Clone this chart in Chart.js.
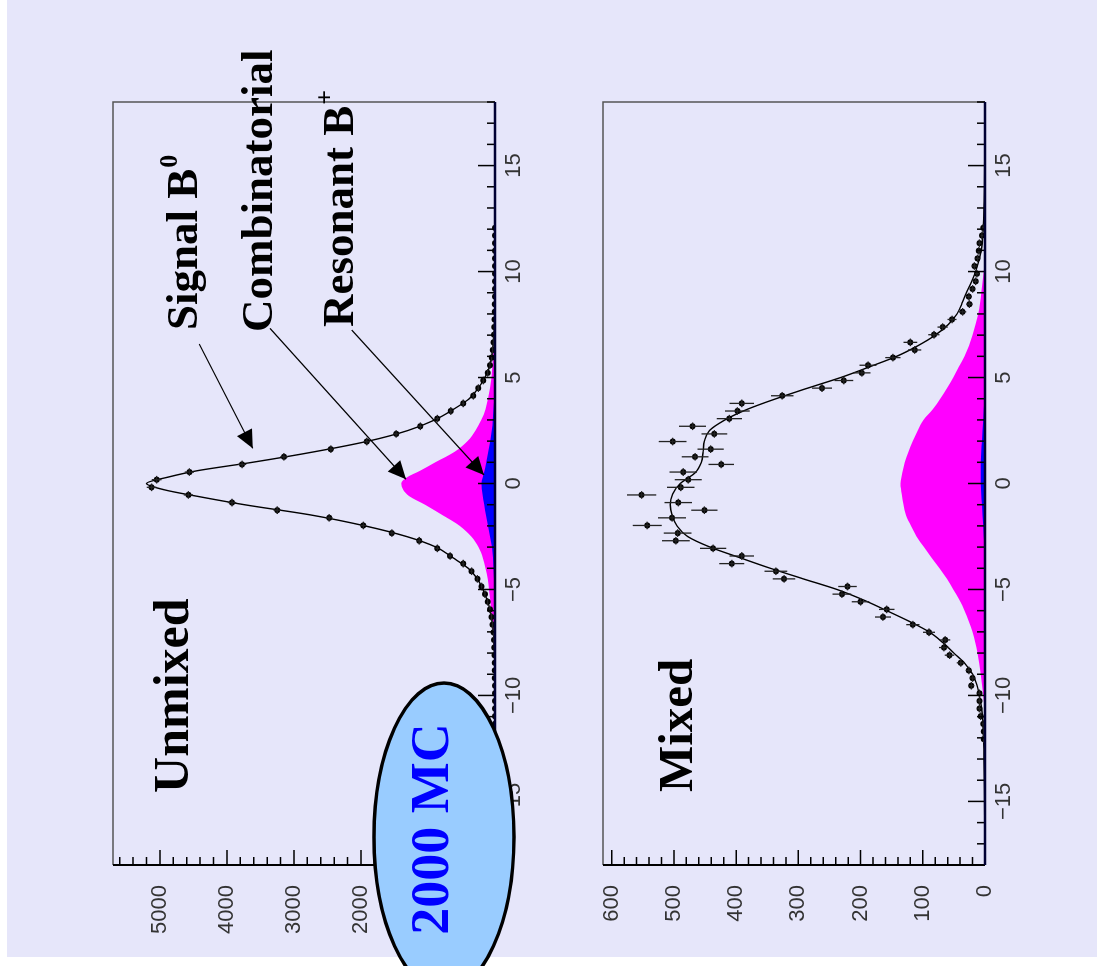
<!DOCTYPE html>
<html>
<head>
<meta charset="utf-8">
<script src="https://cdn.jsdelivr.net/npm/chart.js@4.4.0/dist/chart.umd.min.js"></script>
<style>
  html, body { margin: 0; padding: 0; background: #fff; width: 1097px; height: 966px; overflow: hidden; }
  /* the figure is laid out upright and turned a quarter turn anticlockwise */
  #fig { position: absolute; left: 0; top: 0; width: 966px; height: 1097px;
         transform-origin: 0 0; transform: translateY(966px) rotate(-90deg); }
  #pad { position: absolute; left: 9px; top: 7px; right: 0; bottom: 0; background: #e6e6fa; }
  canvas { position: absolute; left: 0; }
  #unmixed { top: 0; }
  #mixed { top: 560px; }
</style>
</head>
<body>
<div id="fig">
  <div id="pad"></div>
  <canvas id="unmixed" width="966" height="560"></canvas>
  <canvas id="mixed" width="966" height="537"></canvas>
</div>
<script>
// proper-time bins (ps), 0.36 wide
const binCentres = [-12.06, -11.70, -11.34, -10.98, -10.62, -10.26, -9.90, -9.54, -9.18, -8.82,
  -8.46, -8.10, -7.74, -7.38, -7.02, -6.66, -6.30, -5.94, -5.58, -5.22, -4.86, -4.50, -4.14,
  -3.78, -3.42, -3.06, -2.70, -2.34, -1.98, -1.62, -1.26, -0.90, -0.54, -0.18,
  0.18, 0.54, 0.90, 1.26, 1.62, 1.98, 2.34, 2.70, 3.06, 3.42, 3.78, 4.14, 4.50, 4.86, 5.22,
  5.58, 5.94, 6.30, 6.66, 7.02, 7.38, 7.74, 8.10, 8.46, 8.82, 9.18, 9.54, 9.90, 10.26, 10.62,
  10.98, 11.34, 11.70, 12.06];

const unmixedCounts = [0, 0, 0, 0, 0, 1, 1, 1, 2, 3,
  4, 6, 10, 16, 24, 37, 52, 75, 110, 150, 200, 262, 350,
  474, 670, 860, 1130, 1539, 1965, 2475, 3249, 3924, 4575, 5124,
  5049, 4560, 3774, 3150, 2450, 1914, 1475, 1115, 860, 660, 474, 324, 249, 174, 110,
  75, 50, 35, 24, 15, 10, 6, 4, 2, 1, 1, 1, 0, 0, 0,
  0, 0, 0, 0];

const mixedCounts = [2, 2, 3, 7, 9, 9, 9, 22, 20, 26,
  39, 57, 66, 64, 90, 116, 164, 158, 200, 230, 221, 323, 336,
  407, 391, 437, 497, 494, 543, 503, 451, 493, 552, 489,
  477, 485, 424, 466, 441, 502, 435, 470, 411, 398, 391, 326, 262, 227, 198,
  188, 148, 113, 120, 82, 68, 53, 36, 25, 26, 20, 15, 13, 17, 12,
  10, 9, 5, 3];

// fitted total, unmixed sample
const unmixedFitT = [-18, -12, -10, -9, -8, -7.5, -7, -6.5, -6, -5.5, -5, -4.5, -4, -3.5, -3, -2.5,
  -2, -1.5, -1, -0.6, -0.3, 0, 0.3, 0.6, 1, 1.5, 2, 2.5, 3, 3.5, 4, 4.5, 5, 5.5, 6, 6.5, 7,
  7.5, 8, 9, 10, 12, 18];
const unmixedFit = [0, 0, 1, 2, 7, 14, 25, 44, 72, 118, 180, 262, 400, 630, 880, 1320,
  1940, 2720, 3740, 4450, 4930, 5200, 4880, 4450, 3620, 2690, 1890, 1300, 900, 620, 385, 250, 150, 82, 48, 30, 16,
  9, 5, 2, 1, 0, 0];

// combinatorial background (drawn to zero, resonant part laid over it)
const unmixedCombT = [-18, -10, -9, -8, -7, -6, -5, -4.5, -4, -3.5, -3, -2.5, -2, -1.5, -1, -0.6,
  -0.3, 0, 0.3, 0.6, 1, 1.5, 2, 2.5, 3, 3.5, 4, 4.5, 5, 6, 7, 8, 9, 18];
const unmixedComb = [0, 0, 3, 12, 35, 55, 88, 108, 140, 182, 248, 355, 525, 780, 1045, 1280,
  1370, 1400, 1310, 1120, 890, 600, 410, 290, 205, 140, 105, 75, 52, 30, 12, 3, 0, 0];

const unmixedResT = [-18, -7, -6, -5, -4, -3, -2.5, -2, -1.5, -1, -0.5, 0, 0.5, 1, 1.5, 2, 2.5, 3,
  4, 5, 6, 18];
const unmixedRes = [0, 0, 3, 10, 22, 45, 75, 105, 135, 160, 185, 200, 165, 130, 100, 72, 50, 32,
  12, 3, 0, 0];

// fitted total, mixed sample
const mixedFitT = [-18, -13, -12, -11, -10.5, -10, -9.5, -9, -8.5, -8, -7.5, -7, -6.5, -6, -5.5, -5,
  -4.5, -4, -3.5, -3, -2.5, -2, -1.5, -1, -0.5, 0, 0.5, 1, 1.5, 2, 2.5, 3, 3.5, 4, 4.5, 5,
  5.5, 6, 6.5, 7, 7.5, 8, 8.5, 9, 9.5, 10, 11, 12, 13, 18];
const mixedFit = [0, 1.5, 2.5, 4, 6, 9, 13, 20, 32, 50, 68, 90, 122, 158, 195, 238,
  292, 345, 394, 442, 478, 495, 503, 506, 502, 490, 466, 456, 453, 451, 443, 418, 382, 336, 285, 232,
  186, 142, 108, 80, 59, 45, 37, 30, 22, 15, 6, 3, 1.5, 0];

const mixedCombT = [-18, -11, -10, -9, -8, -7, -6, -5.5, -5, -4.5, -4, -3.5, -3, -2.5, -2, -1.5,
  -1, -0.5, 0, 0.5, 1, 1.5, 2, 2.5, 3, 3.5, 4, 4.5, 5, 5.5, 6, 7, 8, 9, 10, 11, 18];
const mixedComb = [0, 0, 3, 7, 12, 20, 33, 41, 51, 61, 73, 86, 98, 110, 119, 127,
  131, 134, 136, 133, 129, 123, 116, 108, 99, 84, 72, 61, 51, 42, 33, 20, 11, 6, 2, 0, 0];

const mixedResT = [-18, -3.5, -3, -2, -1, 0, 1, 2, 3, 4, 4.5, 18];
const mixedRes = [0, 0, 1, 3, 5, 7, 7, 5, 3, 1, 0, 0];

const timeTicks = [-15, -10, -5, 0, 5, 10, 15];
const unmixedTicks = [0, 1000, 2000, 3000, 4000, 5000];
const mixedTicks = [0, 100, 200, 300, 400, 500, 600];

const pairs = (xs, ys) => xs.map((x, i) => ({ x, y: ys[i] }));
const fmt = (v) => (v < 0 ? '\u2212' + Math.abs(v) : String(v));

// inward tick marks, frame and axis lines
const frame = {
  id: 'frame',
  afterDraw(chart) {
    const { ctx, chartArea: a, scales: { x, y } } = chart;
    const o = chart.options.plugins.frame;
    ctx.save();
    ctx.strokeStyle = '#555';
    ctx.lineWidth = 1.5;
    ctx.beginPath();
    ctx.moveTo(a.left, a.top); ctx.lineTo(a.right, a.top); ctx.lineTo(a.right, a.bottom);
    ctx.stroke();

    ctx.strokeStyle = '#000';
    ctx.lineWidth = 1.5;
    ctx.beginPath();
    for (let t = -18; t <= 18; t++) {
      const px = x.getPixelForValue(t);
      const len = t % 5 === 0 ? 17 : 8;
      ctx.moveTo(px, a.bottom); ctx.lineTo(px, a.bottom - len);
    }
    for (let c = 0; c <= y.max; c += o.minor) {
      const py = y.getPixelForValue(c);
      const len = c % o.major === 0 ? 15 : 8;
      ctx.moveTo(a.left, py); ctx.lineTo(a.left + len, py);
    }
    ctx.stroke();

    ctx.lineWidth = 2;
    ctx.beginPath();
    ctx.moveTo(a.left, a.top); ctx.lineTo(a.left, a.bottom);
    ctx.stroke();
    ctx.strokeStyle = '#000033';
    ctx.lineWidth = 2.5;
    ctx.beginPath();
    ctx.moveTo(a.left, a.bottom); ctx.lineTo(a.right, a.bottom);
    ctx.stroke();
    ctx.restore();
  }
};

// counting errors and bin widths on the data points
const errorBars = {
  id: 'errorBars',
  afterDatasetsDraw(chart) {
    const { ctx, chartArea: a, scales: { x, y } } = chart;
    ctx.save();
    ctx.beginPath();
    ctx.rect(a.left, a.top, a.right - a.left, a.bottom - a.top);
    ctx.clip();
    ctx.strokeStyle = '#222';
    ctx.lineWidth = 1.3;
    ctx.beginPath();
    chart.data.datasets.forEach((ds) => {
      if (!ds.errorBars) return;
      ds.data.forEach((p) => {
        const px = x.getPixelForValue(p.x), py = y.getPixelForValue(p.y);
        const err = Math.sqrt(p.y);
        ctx.moveTo(x.getPixelForValue(p.x - 0.18), py);
        ctx.lineTo(x.getPixelForValue(p.x + 0.18), py);
        ctx.moveTo(px, y.getPixelForValue(p.y - err));
        ctx.lineTo(px, y.getPixelForValue(p.y + err));
      });
    });
    ctx.stroke();
    ctx.restore();
  }
};

function boldText(ctx, x, y, text, size, sup) {
  ctx.font = 'bold ' + size + 'px "Liberation Serif", "Times New Roman", serif';
  ctx.fillText(text, x, y);
  if (sup) {
    const w = ctx.measureText(text).width;
    ctx.font = 'bold ' + Math.round(size * 0.58) + 'px "Liberation Serif", serif';
    ctx.fillText(sup, x + w + 1, y - size * 0.45);
  }
}

function arrow(ctx, x0, y0, x1, y1) {
  ctx.beginPath();
  ctx.moveTo(x0, y0); ctx.lineTo(x1, y1);
  ctx.stroke();
  const ang = Math.atan2(y1 - y0, x1 - x0), L = 18, W = 8.5;
  const bx = x1 - L * Math.cos(ang), by = y1 - L * Math.sin(ang);
  ctx.beginPath();
  ctx.moveTo(x1, y1);
  ctx.lineTo(bx + W * Math.sin(ang), by - W * Math.cos(ang));
  ctx.lineTo(bx - W * Math.sin(ang), by + W * Math.cos(ang));
  ctx.closePath();
  ctx.fill();
}

// labels, arrows and the sample badge, placed in data coordinates
const notes = {
  id: 'notes',
  afterDraw(chart) {
    const { ctx, scales: { x, y } } = chart;
    const o = chart.options.plugins.notes;
    const X = (v) => x.getPixelForValue(v), Y = (v) => y.getPixelForValue(v);
    ctx.save();
    ctx.fillStyle = '#000';
    ctx.strokeStyle = '#000';
    ctx.lineWidth = 1.2;
    ctx.textAlign = 'left';
    ctx.textBaseline = 'alphabetic';
    (o.texts || []).forEach((n) => boldText(ctx, X(n.t), Y(n.c), n.text, n.size, n.sup));
    (o.arrows || []).forEach((n) => arrow(ctx, X(n.from[0]), Y(n.from[1]), X(n.to[0]), Y(n.to[1])));
    if (o.badge) {
      const b = o.badge;
      ctx.beginPath();
      ctx.ellipse(X(b.t), Y(b.c), 154, 70, 0, 0, Math.PI * 2);
      ctx.fillStyle = '#99ccff';
      ctx.fill();
      ctx.lineWidth = 3.5;
      ctx.stroke();
      ctx.fillStyle = '#0000ff';
      ctx.textAlign = 'center';
      ctx.font = 'bold 54px "Liberation Serif", serif';
      ctx.fillText(b.text, X(b.textT), Y(b.textC));
    }
    ctx.restore();
  }
};

const tickFont = { family: '"Liberation Sans", Arial, sans-serif', size: 22 };

function panel(id, counts, fitT, fit, combT, comb, resT, res, yMax, yTicks, minor, xAxisH, padTop, noteOpts) {
  return new Chart(document.getElementById(id), {
    type: 'line',
    data: {
      datasets: [
        { label: 'data', data: pairs(binCentres, counts), showLine: false, errorBars: true,
          pointRadius: 3, pointBackgroundColor: '#000', pointBorderWidth: 0, order: 0 },
        { label: 'fit', data: pairs(fitT, fit), borderColor: '#000', borderWidth: 1.4,
          pointRadius: 0, cubicInterpolationMode: 'monotone', fill: false, order: 1 },
        { label: 'Resonant B+', data: pairs(resT, res), borderWidth: 0, borderColor: 'rgba(0,0,0,0)',
          backgroundColor: '#0000ff', pointRadius: 0, cubicInterpolationMode: 'monotone', fill: 'origin', order: 2 },
        { label: 'Combinatorial', data: pairs(combT, comb), borderWidth: 0, borderColor: 'rgba(0,0,0,0)',
          backgroundColor: '#ff00ff', pointRadius: 0, cubicInterpolationMode: 'monotone', fill: 'origin', order: 3 }
      ]
    },
    options: {
      responsive: false,
      animation: false,
      devicePixelRatio: 1,
      events: [],
      layout: { padding: { top: padTop, right: 102, left: 0, bottom: 0 } },
      scales: {
        x: {
          type: 'linear', min: -18, max: 18,
          afterFit: (s) => { s.height = xAxisH; },
          afterBuildTicks: (s) => { s.ticks = timeTicks.map((v) => ({ value: v })); },
          grid: { display: false, drawTicks: false },
          border: { display: false },
          ticks: { callback: fmt, font: tickFont, color: '#333', padding: 6, maxRotation: 0 }
        },
        y: {
          type: 'linear', min: 0, max: yMax,
          afterFit: (s) => { s.width = 101; },
          afterBuildTicks: (s) => { s.ticks = yTicks.map((v) => ({ value: v })); },
          grid: { display: false, drawTicks: false },
          border: { display: false },
          ticks: { callback: (v) => String(v), font: tickFont, color: '#333', padding: 20 }
        }
      },
      plugins: {
        legend: { display: false },
        tooltip: { enabled: false },
        frame: { major: yTicks[1], minor: minor },
        notes: noteOpts
      }
    },
    plugins: [frame, errorBars, notes]
  });
}

panel('unmixed', unmixedCounts, unmixedFitT, unmixedFit, unmixedCombT, unmixedComb, unmixedResT, unmixedRes,
  5700, unmixedTicks, 200, 65, 113, {
    texts: [
      { text: 'Unmixed', t: -14.6, c: 4581, size: 50 },
      { text: 'Signal B', sup: '0', t: 7.24, c: 4446, size: 45 },
      { text: 'Combinatorial', t: 7.15, c: 3327, size: 45 },
      { text: 'Resonant B', sup: '+', t: 7.38, c: 2119, size: 45 }
    ],
    arrows: [
      { from: [6.58, 4412], to: [1.66, 3615] },
      { from: [7.32, 3357], to: [0.20, 1328] },
      { from: [7.24, 2138], to: [0.40, 164] }
    ],
    badge: { text: '2000 MC', t: -16.68, c: 761, textT: -16.30, textC: 701 }
  });

panel('mixed', mixedCounts, mixedFitT, mixedFit, mixedCombT, mixedComb, mixedResT, mixedRes,
  614, mixedTicks, 20, 112, 43, {
    texts: [{ text: 'Mixed', t: -14.56, c: 471, size: 49 }]
  });
</script>
</body>
</html>
